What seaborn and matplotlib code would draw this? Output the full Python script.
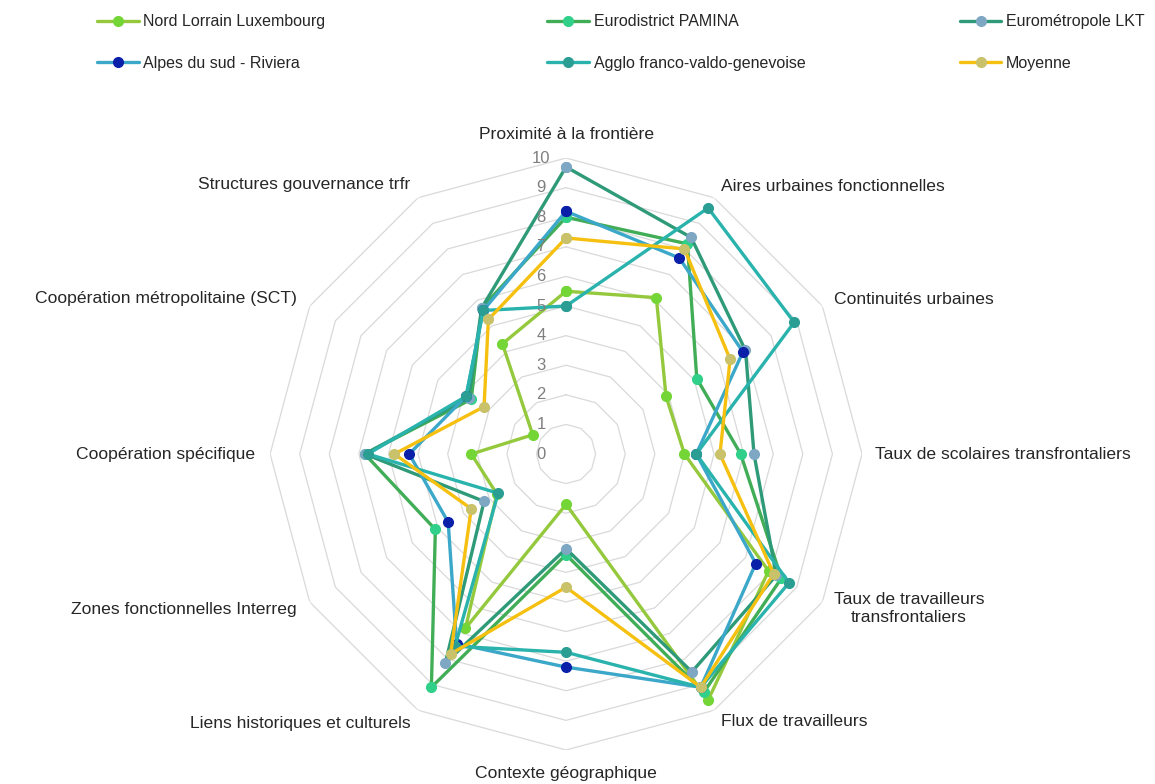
import numpy as np
import pandas as pd
import matplotlib
matplotlib.use("Agg")
import matplotlib.pyplot as plt
import matplotlib.transforms as mtrans
from matplotlib.lines import Line2D
import seaborn as sns

axes_labels = [
    "Proximité à la frontière",
    "Aires urbaines fonctionnelles",
    "Continuités urbaines",
    "Taux de scolaires transfrontaliers",
    "Taux de travailleurs\ntransfrontaliers",
    "Flux de travailleurs",
    "Contexte géographique",
    "Liens historiques et culturels",
    "Zones fonctionnelles Interreg",
    "Coopération spécifique",
    "Coopération métropolitaine (SCT)",
    "Structures gouvernance trfr",
]

regions = ["Nord Lorrain Luxembourg", "Eurodistrict PAMINA", "Eurométropole LKT",
           "Alpes du sud - Riviera", "Agglo franco-valdo-genevoise", "Moyenne"]

nord_lorrain = [5.5, 6.1, 3.9, 4.0, 7.9, 9.6, 1.7, 6.8, 2.7, 3.2, 1.3, 4.3]
pamina = [8.0, 8.2, 5.1, 5.9, 8.4, 9.3, 3.4, 9.1, 5.1, 6.8, 3.7, 5.7]
lkt = [9.7, 8.45, 7.0, 6.35, 8.2, 8.5, 3.2, 8.15, 3.2, 6.8, 3.8, 5.7]
alpes = [8.2, 7.65, 6.9, 4.4, 7.4, 9.1, 7.2, 7.4, 4.6, 5.3, 3.9, 5.6]
agglo = [5.0, 9.6, 8.9, 4.4, 8.7, 9.1, 6.7, 7.5, 2.65, 6.7, 3.9, 5.6]
moyenne = [7.3, 8.0, 6.4, 5.2, 8.1, 9.1, 4.5, 7.8, 3.7, 5.8, 3.2, 5.25]

series = [nord_lorrain, pamina, lkt, alpes, agglo, moyenne]
line_colors = ["#95c93d", "#41ad56", "#2e9a78", "#3ba7c9", "#2ab3ad", "#f5c010"]
marker_colors = ["#74d636", "#30d08a", "#7ea7c4", "#0a20a8", "#2b9e94", "#c9c26a"]

rings = list(range(0, 11))

sns.set_theme(style="white")
plt.rcParams['font.family'] = ['Liberation Sans', 'DejaVu Sans']

fig = plt.figure(figsize=(11.55, 7.84), dpi=100)
ax = fig.add_axes([0.2338, 0.0434, 0.5126, 0.755], projection="polar")
ax.set_theta_zero_location("N")
ax.set_theta_direction(-1)

n = len(axes_labels)
angles = np.linspace(0, 2 * np.pi, n, endpoint=False)
closed = np.append(angles, 2 * np.pi)

# polygon grid
for lvl in rings[1:]:
    ax.plot(closed, [lvl] * (n + 1), color="#d9d9d9", lw=0.9, zorder=1)

rows = []
for name, vals in zip(regions, series):
    for a, v in zip(list(closed), vals + vals[:1]):
        rows.append({"region": name, "theta": a, "value": v})
df = pd.DataFrame(rows)

for i, name in enumerate(regions):
    sub = df[df.region == name]
    sns.lineplot(x=sub.theta.values, y=sub.value.values, sort=False, estimator=None,
                 color=line_colors[i], lw=2.4, marker="o", markersize=7,
                 markerfacecolor=marker_colors[i], markeredgecolor=marker_colors[i],
                 markeredgewidth=1, ax=ax, zorder=3 + i)

ax.set_ylim(0, 10)
ax.set_xticks([])
ax.set_yticks([])
ax.grid(False)
ax.spines["polar"].set_visible(False)
ax.set_xlabel("")
ax.set_ylabel("")

# radial tick labels
off = mtrans.offset_copy(ax.transData, fig=fig, x=-25, y=0, units="dots")
for lvl in rings:
    ax.text(0, lvl, str(lvl), transform=off, ha="center", va="center",
            fontsize=12, color="#7f7f7f", zorder=20)

# category labels
for a, lab in zip(angles, axes_labels):
    s = np.sin(a)
    if abs(s) < 0.1:
        ha, r = "center", 10.8
    elif s > 0:
        ha, r = "left", 10.45
    else:
        ha, r = "right", 10.5
    ax.text(a, r, lab, ha=ha, va="center", fontsize=12.6, color="#262626",
            multialignment="center")

# legend in three columns
cols = [(0.084, [0, 3]), (0.474, [1, 4]), (0.831, [2, 5])]
for x0, idx in cols:
    handles = [Line2D([0], [0], color=line_colors[k], lw=2.4, marker="o", markersize=7,
                      markerfacecolor=marker_colors[k], markeredgecolor=marker_colors[k])
               for k in idx]
    fig.legend(handles, [regions[k] for k in idx], loc="upper left",
               bbox_to_anchor=(x0, 0.982), frameon=False, fontsize=11.5,
               handlelength=2.6, handletextpad=0.3, labelspacing=1.68,
               borderpad=0, borderaxespad=0)

fig.savefig("out.png", dpi=100)
